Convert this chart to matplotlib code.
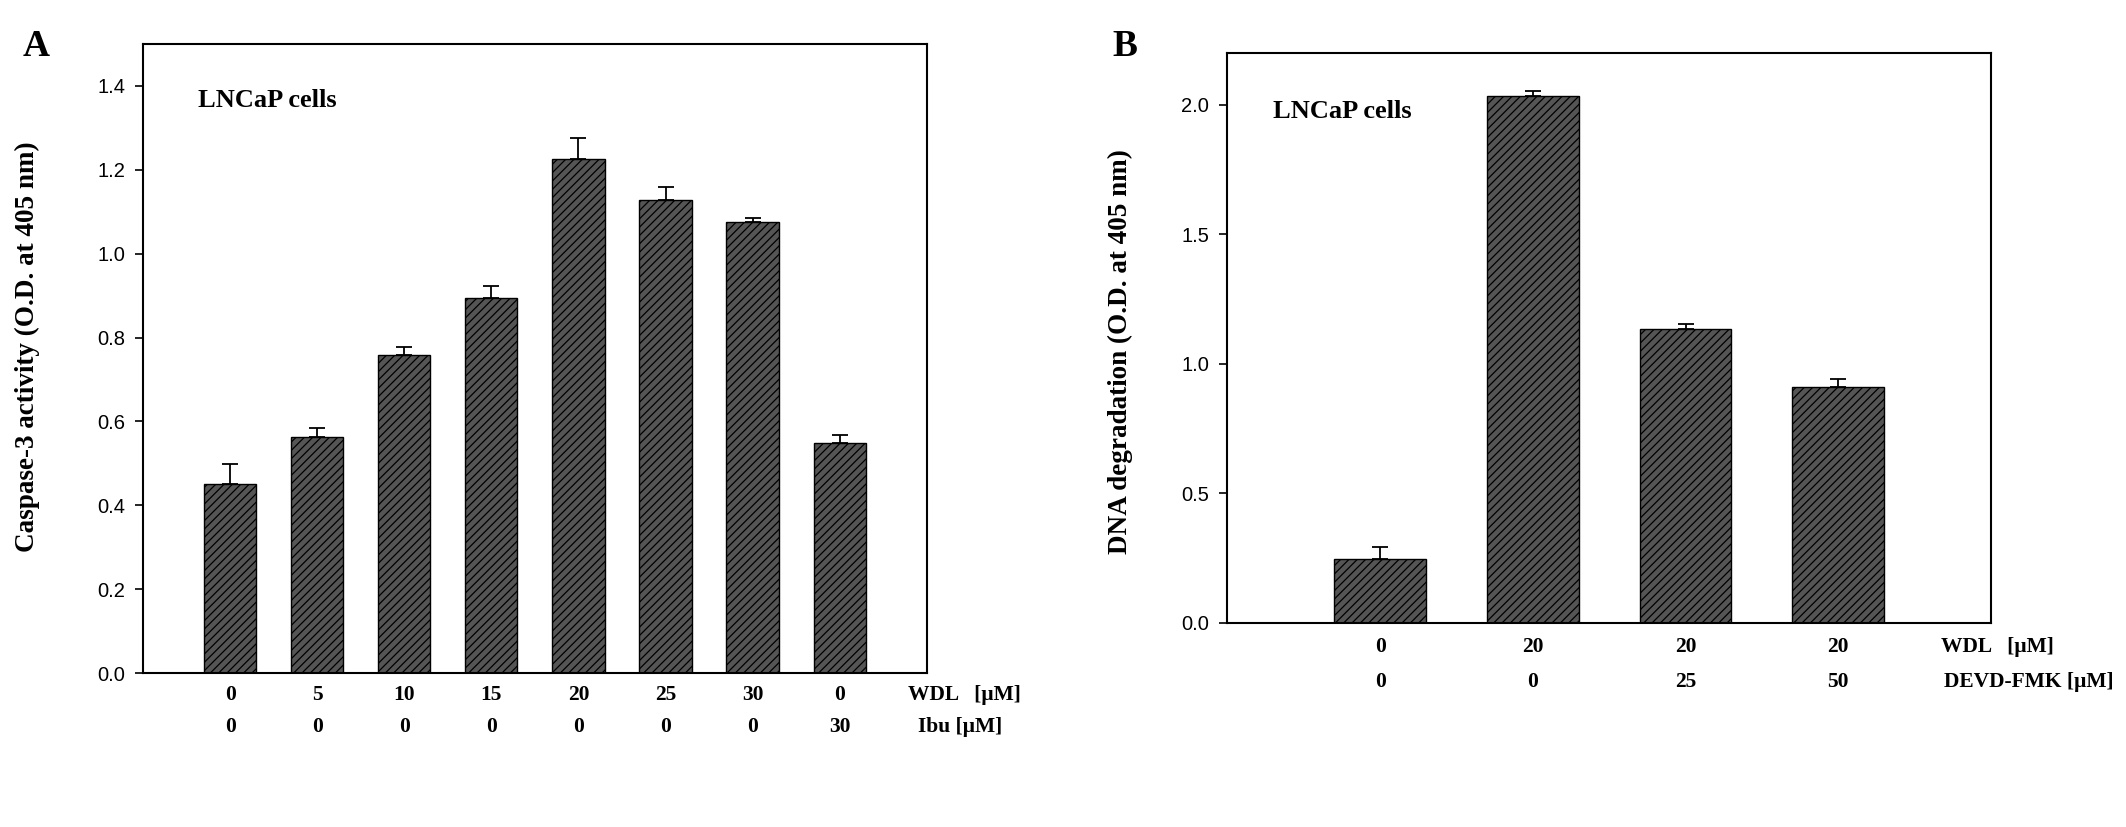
import numpy as np
import matplotlib.pyplot as plt

plt.rcParams['hatch.linewidth'] = 0.9
plt.rcParams['hatch.color'] = 'black'

SERIF = 'Liberation Serif'
SANS = 'Liberation Sans'

# panel A: caspase-3 activity
wdl_a = ['0', '5', '10', '15', '20', '25', '30', '0']
ibu_a = ['0', '0', '0', '0', '0', '0', '0', '30']
casp = [0.450, 0.563, 0.758, 0.894, 1.226, 1.129, 1.076, 0.548]
casp_err = [0.048, 0.021, 0.020, 0.030, 0.050, 0.030, 0.010, 0.020]

# panel B: DNA degradation
wdl_b = ['0', '20', '20', '20']
devd_b = ['0', '0', '25', '50']
dna = [0.246, 2.033, 1.135, 0.910]
dna_err = [0.047, 0.021, 0.019, 0.030]


def panel(ax, vals, errs, ymax, yticks, ylabel, row1, row2, name1, name2,
          rowy, namex, ylab_pos, cell_pos):
    x = np.arange(1, len(vals) + 1)
    ax.bar(x, vals, width=0.6, color='#555555', edgecolor='black',
           linewidth=1.0, hatch='////', zorder=2)
    ax.errorbar(x, vals, yerr=[np.zeros(len(errs)), errs], fmt='none',
                ecolor='black', elinewidth=1.3, capsize=6, capthick=1.3,
                zorder=3)
    ax.set_xlim(0, len(vals) + 1)
    ax.set_ylim(0, ymax)
    ax.set_xticks([])
    ax.set_yticks(yticks)
    ax.set_yticklabels(['%.1f' % t for t in yticks], fontfamily=SANS)
    ax.tick_params(axis='y', direction='out', length=6, width=1.2,
                   labelsize=14.5, pad=7)
    for s in ax.spines.values():
        s.set_linewidth(1.5)
    tr = ax.get_xaxis_transform()
    for xi, a, b in zip(x, row1, row2):
        ax.text(xi, rowy[0], a, transform=tr, ha='center', va='center',
                fontsize=15.5, fontweight='bold', fontfamily=SERIF)
        ax.text(xi, rowy[1], b, transform=tr, ha='center', va='center',
                fontsize=15.5, fontweight='bold', fontfamily=SERIF)
    ax.text(namex[0], rowy[0], name1, transform=tr, ha='left', va='center',
            fontsize=15.5, fontweight='bold', fontfamily=SERIF)
    ax.text(namex[1], rowy[1], name2, transform=tr, ha='left', va='center',
            fontsize=15.5, fontweight='bold', fontfamily=SERIF)
    ax.text(ylab_pos[0], ylab_pos[1], ylabel, transform=ax.transAxes,
            rotation=90, ha='center', va='center', fontsize=19.5,
            fontweight='bold', fontfamily=SERIF)
    ax.text(cell_pos[0], cell_pos[1], 'LNCaP cells', transform=ax.transAxes,
            ha='left', va='center', fontsize=19, fontweight='bold',
            fontfamily=SERIF)


fig = plt.figure(figsize=(21.26, 8.27), dpi=100)
axA = fig.add_axes([0.0673, 0.1862, 0.3686, 0.7606])
axB = fig.add_axes([0.5773, 0.2470, 0.3592, 0.6893])

panel(axA, casp, casp_err, 1.5, np.arange(0, 1.41, 0.2),
      'Caspase-3 activity (O.D. at 405 nm)', wdl_a, ibu_a,
      'WDL   [\u00b5M]', 'Ibu [\u00b5M]', (-0.035, -0.086), (8.78, 8.90),
      (-0.148, 0.518), (0.070, 0.910))
panel(axB, dna, dna_err, 2.2, np.arange(0, 2.01, 0.5),
      'DNA degradation (O.D. at 405 nm)', wdl_b, devd_b,
      'WDL   [\u00b5M]', 'DEVD-FMK [\u00b5M]', (-0.043, -0.104), (4.67, 4.69),
      (-0.1405, 0.475), (0.060, 0.896))

fig.text(0.0169, 0.944, 'A', ha='center', va='center', fontsize=27,
         fontweight='bold', fontfamily=SERIF)
fig.text(0.529, 0.944, 'B', ha='center', va='center', fontsize=27,
         fontweight='bold', fontfamily=SERIF)

fig.savefig('out.png', dpi=100)
